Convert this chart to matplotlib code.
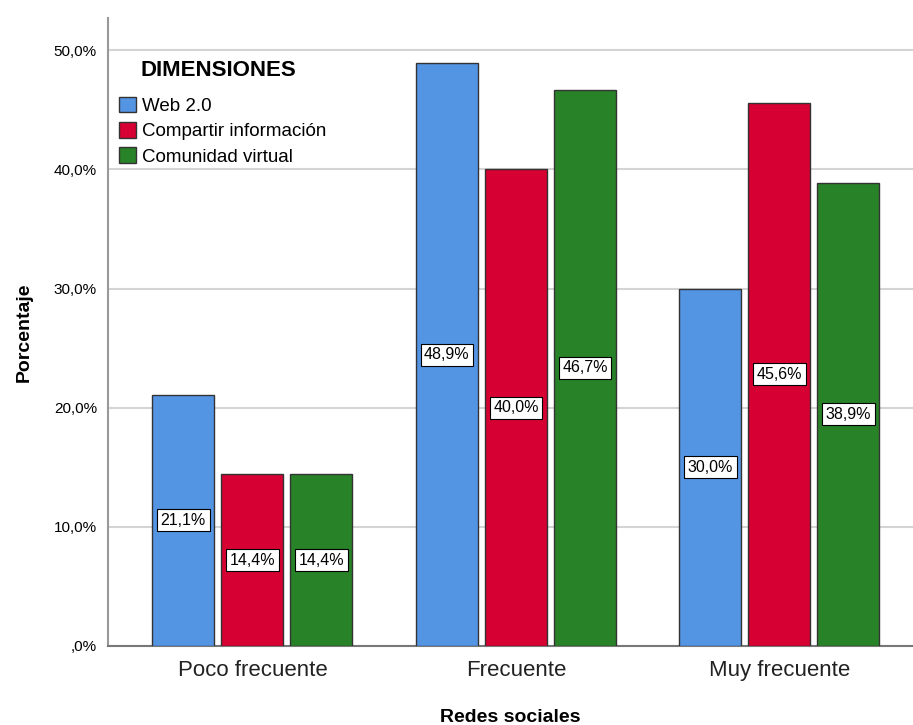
import matplotlib.pyplot as plt
import numpy as np
from matplotlib.ticker import FuncFormatter

plt.rcParams['font.family'] = ['Liberation Sans', 'DejaVu Sans']

categories = ['Poco frecuente', 'Frecuente', 'Muy frecuente']
series = ['Web 2.0', 'Compartir información', 'Comunidad virtual']
web20 = [21.1, 48.9, 30.0]
compartir = [14.4, 40.0, 45.6]
comunidad = [14.4, 46.7, 38.9]
colors = ['#5394e3', '#d60032', '#288228']


def pct_label(v, pos=None):
    s = f"{v:.1f}".replace('.', ',')
    if s.startswith('0,'):
        s = s[1:]
    return s + '%'


fig = plt.figure(figsize=(9.13, 7.25), dpi=100)
ax = fig.add_axes([0.1183, 0.109, 0.8817, 0.866])

x = np.arange(len(categories))
width = 0.235
step = 0.262
for i, (vals, name) in enumerate(zip([web20, compartir, comunidad], series)):
    pos = x + (i - 1) * step
    bars = ax.bar(pos, vals, width, color=colors[i], edgecolor='#333333',
                  linewidth=1, label=name, zorder=3)
    for b, v in zip(bars, vals):
        ax.text(b.get_x() + b.get_width() / 2, v / 2, pct_label(v),
                ha='center', va='center', fontsize=11.5, zorder=4,
                bbox=dict(boxstyle='square,pad=0.22', facecolor='white',
                          edgecolor='black', linewidth=0.8))

ax.set_xlim(-0.548, 2.507)
ax.set_ylim(0, 52.7)
ax.set_yticks([0, 10, 20, 30, 40, 50])
ax.yaxis.set_major_formatter(FuncFormatter(pct_label))
ax.set_xticks(x)
ax.set_xticklabels(categories, fontsize=16, color='#222222')
ax.tick_params(axis='both', length=0)
ax.tick_params(axis='y', labelsize=11, pad=8)
ax.tick_params(axis='x', pad=10)
ax.grid(axis='y', color='#d4d4d4', linewidth=1.5, zorder=0)

for s in ['top', 'right']:
    ax.spines[s].set_visible(False)
ax.spines['left'].set_color('#999999')
ax.spines['left'].set_linewidth(1.5)
ax.spines['bottom'].set_color('#777777')
ax.spines['bottom'].set_linewidth(1.5)

ax.set_ylabel('Porcentaje', fontsize=14, fontweight='bold', labelpad=15)
ax.set_xlabel('Redes sociales', fontsize=14, fontweight='bold', labelpad=20)

ax.text(0.0398, 0.917, 'DIMENSIONES', transform=ax.transAxes, fontsize=16,
        fontweight='bold', ha='left', va='center', zorder=5)
ax.legend(loc='upper left', frameon=False, fontsize=13.5,
          handlelength=0.9, handleheight=0.9, handletextpad=0.3,
          labelspacing=0.38, borderpad=0, borderaxespad=0,
          bbox_to_anchor=(0.0137, 0.875))

fig.savefig('out.png', dpi=100)
